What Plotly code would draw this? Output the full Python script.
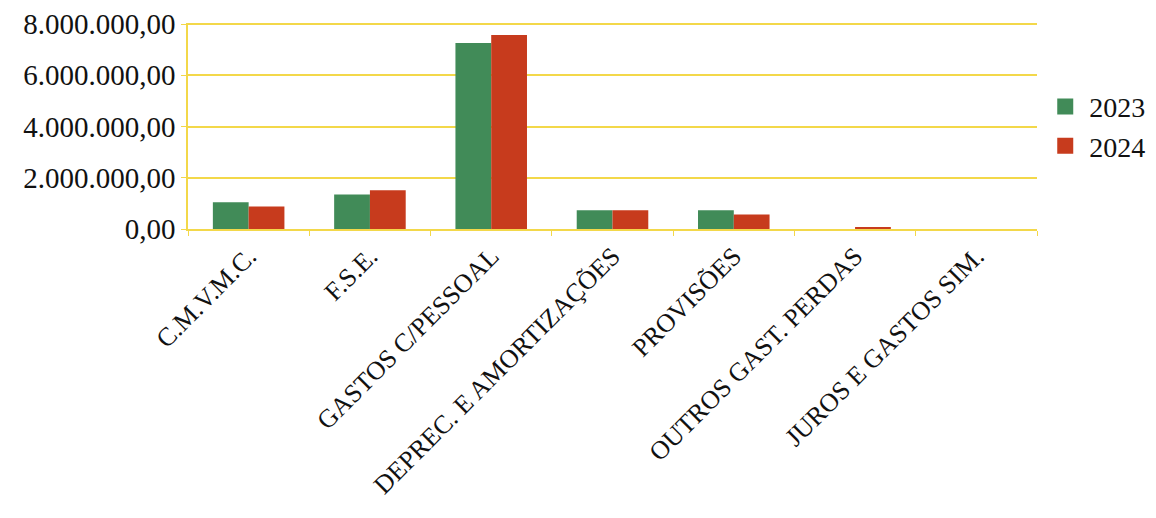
import plotly.graph_objects as go

categories = ["C.M.V.M.C.", "F.S.E.", "GASTOS C/PESSOAL", "DEPREC. E AMORTIZAÇÕES",
              "PROVISÕES", "OUTROS GAST. PERDAS", "JUROS E GASTOS SIM."]
series_names = ["2023", "2024"]
values_2023 = [1040000, 1350000, 7260000, 730000, 730000, 0, 0]
values_2024 = [880000, 1510000, 7570000, 730000, 570000, 80000, 0]
y_ticks = [0, 2000000, 4000000, 6000000, 8000000]

GREEN = "#418B58"
RED = "#C73B1D"
YELLOW = "#F3D84A"
FONT = "Liberation Serif"

fig = go.Figure()
for name, vals, col in [(series_names[0], values_2023, GREEN), (series_names[1], values_2024, RED)]:
    fig.add_trace(go.Bar(x=categories, y=vals, name=name, marker_color=col,
                         marker_line_width=0, showlegend=False))
    # legend proxy with a larger square swatch
    fig.add_trace(go.Scatter(x=[None], y=[None], mode="markers", name=name,
                             marker=dict(symbol="square", size=19, color=col)))

fig.update_layout(
    width=1156, height=518,
    margin=dict(l=180, r=127, t=15, b=297),
    paper_bgcolor="white", plot_bgcolor="white",
    barmode="group", bargap=0.41, bargroupgap=0,
    separators=",.",
    font=dict(family=FONT, color="#111111"),
    showlegend=True,
    legend=dict(x=1.005, y=0.715, xanchor="left", yanchor="top",
                font=dict(size=28, family=FONT), tracegroupgap=0,
                itemsizing="trace", itemwidth=38, bgcolor="rgba(0,0,0,0)"),
)
fig.update_yaxes(
    range=[0, 8040000], tickvals=y_ticks, tickformat=",.2f",
    showgrid=True, gridcolor=YELLOW, gridwidth=1.5,
    showline=True, linecolor=YELLOW, linewidth=1.5,
    ticks="outside", ticklen=5, tickcolor=YELLOW,
    tickfont=dict(size=29, family=FONT), zeroline=False, automargin=False,
)
fig.update_xaxes(
    tickangle=-45, tickfont=dict(size=26, family=FONT),
    showline=True, linecolor=YELLOW, linewidth=1.5,
    ticks="outside", ticklen=5, tickcolor=YELLOW, tickson="boundaries",
    showgrid=False, automargin=False,
)

fig.write_html("out.html")
